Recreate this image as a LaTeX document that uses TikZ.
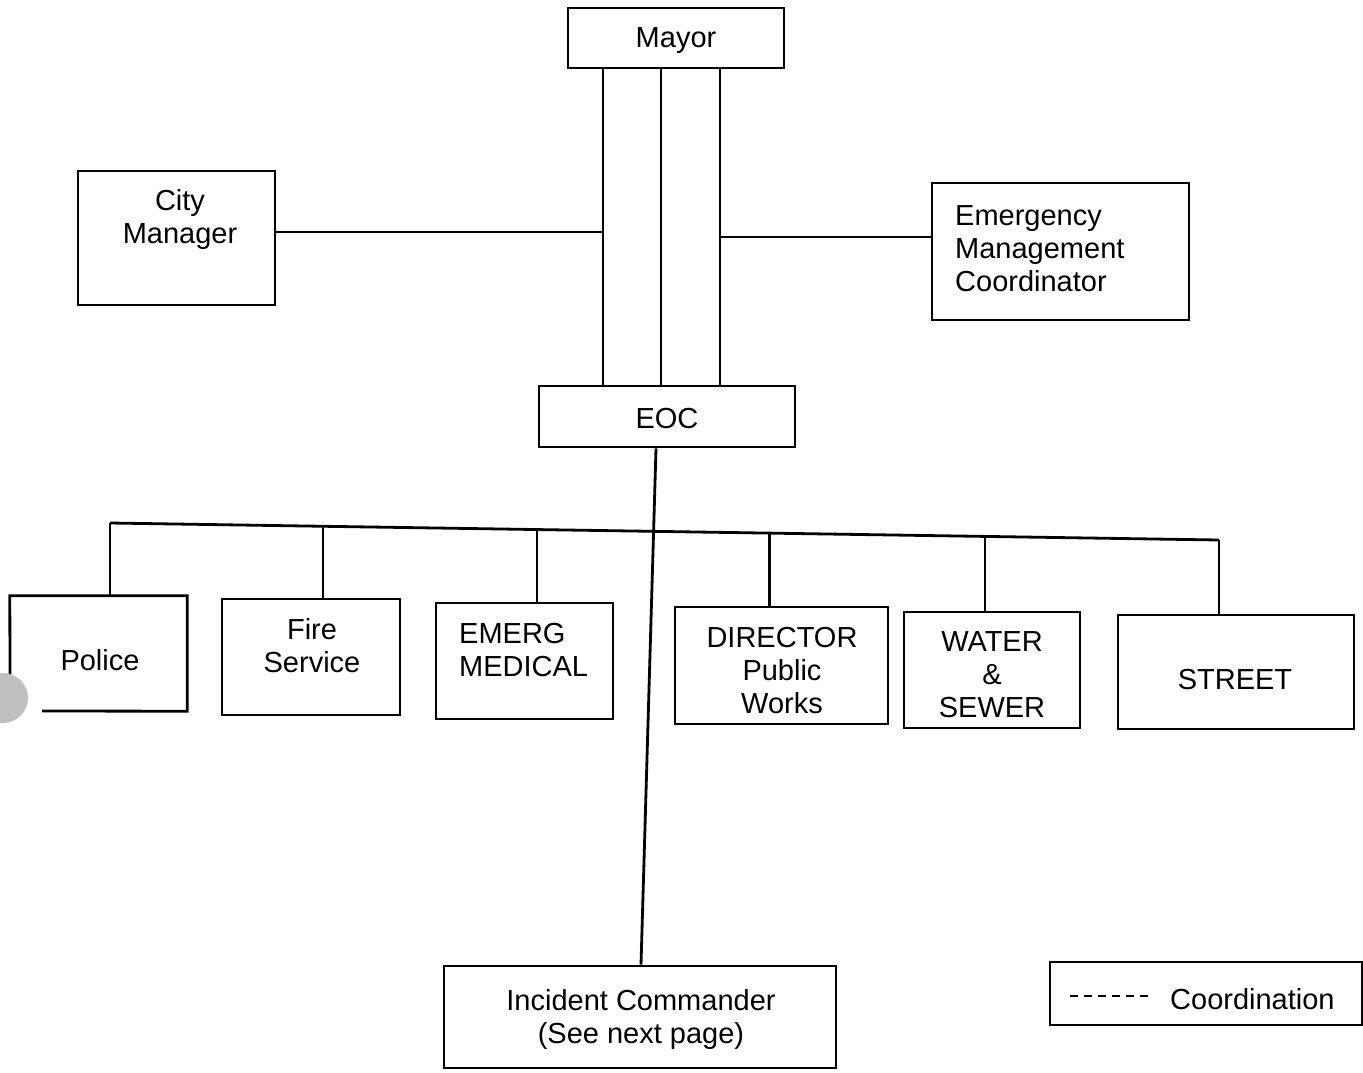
\documentclass[tikz,border=0pt]{standalone}
\usepackage{fontspec}
\setmainfont{Liberation Sans}
\usetikzlibrary{calc}
\begin{document}
\begin{tikzpicture}[x=1pt,y=-1pt,
  box/.style={draw=black, line width=2.8pt, inner sep=0pt, fill=none},
  txt/.style={inner sep=0pt, font=\fontsize{29}{33}\selectfont, align=center},
  conn/.style={draw=black, line width=2.8pt}]
\useasboundingbox (0,0) rectangle (1363,1072);
\fill[white] (0,0) rectangle (1363,1072);
% boxes
\node[box, minimum width=216pt, minimum height=60pt] (mayor) at (676,38) {};
\node[txt] (mayort) at (676,41) {Mayor};
\node[box, minimum width=197pt, minimum height=134pt] (cm) at (176.5,238) {};
\node[txt] (cmt) at (180,219) {City\\Manager};
\node[box, minimum width=257pt, minimum height=137pt] (emc) at (1060.5,251.5) {};
\node[txt, align=left, anchor=west] (emct) at (955,249) {Emergency\\Management\\Coordinator};
\node[box, minimum width=256pt, minimum height=61pt] (eoc) at (667,416.5) {};
\node[txt] (eoct) at (667,419) {EOC};
% police box (partially hidden)
\node[minimum width=177pt, minimum height=115pt, inner sep=0pt] (police) at (98.5,653.5) {};
\draw[conn] (42,711) -- (police.south east) -- (police.north east) -- (police.north west) -- (10,675);
\node[txt] (policet) at (100,660) {Police};
\node[box, minimum width=178pt, minimum height=116pt] (fire) at (311,657) {};
\node[txt] (firet) at (312,646) {Fire\\Service};
\node[box, minimum width=177pt, minimum height=116pt] (emerg) at (524.5,661) {};
\node[txt, align=left, anchor=west] (emergt) at (459,650) {EMERG\\MEDICAL};
\node[box, minimum width=213pt, minimum height=117pt] (dir) at (781.5,665.5) {};
\node[txt] (dirt) at (782,671) {DIRECTOR\\Public\\Works};
\node[box, minimum width=176pt, minimum height=116pt] (water) at (992,670) {};
\node[txt] (watert) at (992,675) {WATER\\\&\\SEWER};
\node[box, minimum width=236pt, minimum height=114pt] (street) at (1236,672) {};
\node[txt] (streett) at (1235,680) {STREET};
\node[box, minimum width=392pt, minimum height=102pt] (ic) at (640,1017) {};
\node[txt] (ict) at (641,1019) {Incident Commander\\(See next page)};
\node[box, minimum width=312pt, minimum height=63pt] (legend) at (1206,993.5) {};
\node[txt, anchor=west] (legt) at (1170,999) {Coordination};
\coordinate (d1) at (1070,996);
\coordinate (d2) at (1150,996);
\draw[line width=2pt, dash pattern=on 8pt off 6pt] (d1) -- (d2);
% connectors mayor - eoc
\coordinate (l1) at (603,0);
\coordinate (l2) at (661,0);
\coordinate (l3) at (720,0);
\draw[conn] (mayor.south -| l1) -- (eoc.north -| l1);
\draw[conn] (mayor.south -| l2) -- (eoc.north -| l2);
\draw[conn] (mayor.south -| l3) -- (eoc.north -| l3);
\draw[conn] ([yshift=6pt]cm.east) -- ([yshift=6pt]cm.east -| l1);
\draw[conn] ([yshift=14.5pt]emc.west -| l3) -- ([yshift=14.5pt]emc.west);
% bus
\coordinate (bL) at (110,523);
\coordinate (bR) at (1219,540);
\draw[conn] (bL) -- (bR);
\draw[conn] (bL) -- (police.north -| bL);
\draw[conn] ($(bL)!0.192!(bR)$) -- (fire.north -| {$(bL)!0.192!(bR)$});
\draw[conn] ($(bL)!0.385!(bR)$) -- (emerg.north -| {$(bL)!0.385!(bR)$});
\draw[conn] ($(bL)!0.595!(bR)$) -- (dir.north -| {$(bL)!0.595!(bR)$});
\draw[conn] ($(bL)!0.789!(bR)$) -- (water.north -| {$(bL)!0.789!(bR)$});
\draw[conn] (bR) -- (street.north -| bR);
% eoc to incident commander
\draw[conn] ([xshift=-11pt]eoc.south) -- ([xshift=1pt]ic.north);
% hole punch
\fill[gray!50] (3,698) circle (25);
\end{tikzpicture}
\end{document}
